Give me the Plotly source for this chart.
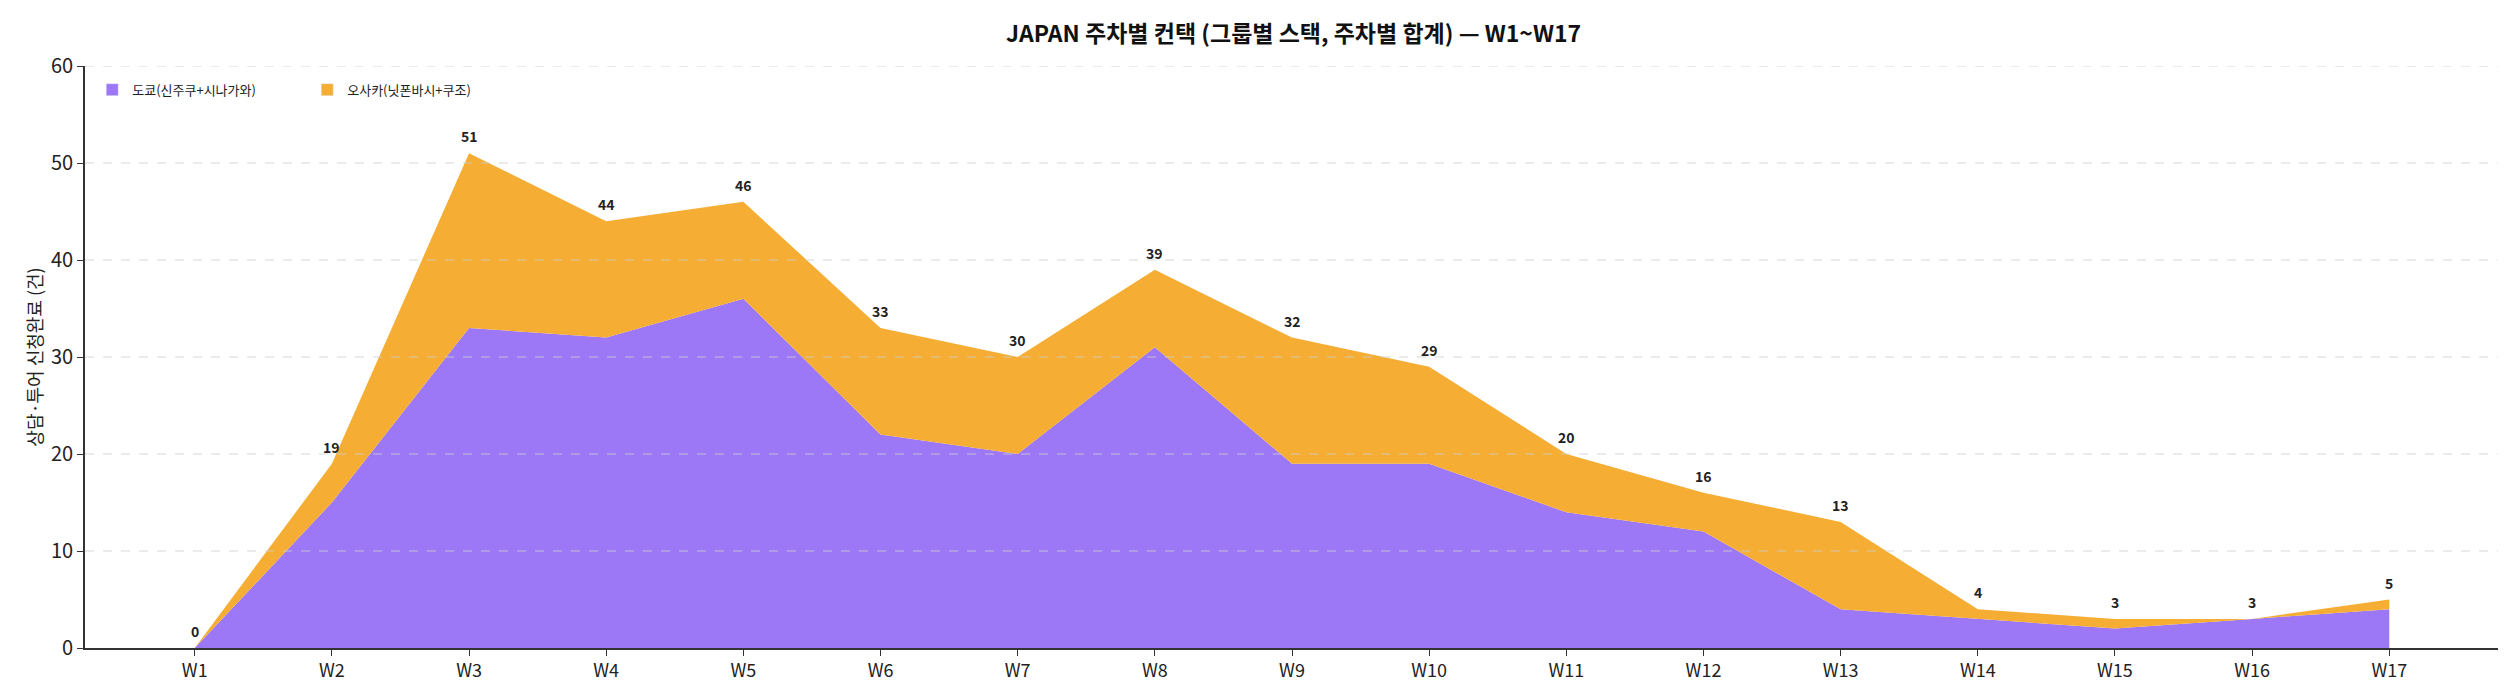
import plotly.graph_objects as go

# Data -------------------------------------------------------------------------
weeks = ["W1", "W2", "W3", "W4", "W5", "W6", "W7", "W8", "W9",
         "W10", "W11", "W12", "W13", "W14", "W15", "W16", "W17"]
tokyo = [0, 15, 33, 32, 36, 22, 20, 31, 19, 19, 14, 12, 4, 3, 2, 3, 4]
osaka = [0, 4, 18, 12, 10, 11, 10, 8, 13, 10, 6, 4, 9, 1, 1, 0, 1]
totals = [a + b for a, b in zip(tokyo, osaka)]
y_ticks = [0, 10, 20, 30, 40, 50, 60]
series_names = ["도쿄(신주쿠+시나가와)", "오사카(닛폰바시+쿠조)"]

# Parameters -------------------------------------------------------------------
font_family = "Noto Sans CJK KR"
colour_tokyo = "#9c77f6"
colour_osaka = "#f5ad33"
axis_colour = "#333333"
grid_colour = "rgba(205,205,205,0.55)"

x_idx = list(range(len(weeks)))

fig = go.Figure()

# stacked areas
for ys, colour in zip([tokyo, osaka], [colour_tokyo, colour_osaka]):
    fig.add_trace(go.Scatter(
        x=x_idx, y=ys, mode="lines", stackgroup="one",
        line=dict(width=0, color=colour), fillcolor=colour,
        showlegend=False, hoverinfo="skip",
    ))

# legend-only boxes (rectangle swatches)
for name, colour in zip(series_names, [colour_tokyo, colour_osaka]):
    fig.add_trace(go.Bar(
        x=[None], y=[None], name=name, marker=dict(color=colour),
        showlegend=True,
    ))

# total labels above the stack
for xi, t in zip(x_idx, totals):
    fig.add_annotation(
        x=xi, y=t, text=f"<b>{t}</b>", showarrow=False,
        yanchor="bottom", yshift=5,
        font=dict(family=font_family, size=14, color="#222222"),
    )

# dashed grid drawn above the areas (like the original)
for v in y_ticks[1:]:
    fig.add_shape(
        type="line", xref="paper", yref="y",
        x0=0, x1=1, y0=v, y1=v,
        line=dict(color=grid_colour, width=1.3, dash="dash"),
        layer="above",
    )

fig.update_layout(
    width=2506, height=686,
    paper_bgcolor="white", plot_bgcolor="white",
    margin=dict(l=77, r=15, t=58, b=46),
    font=dict(family=font_family, size=17, color="#222222"),
    title=dict(
        text="<b>JAPAN 주차별 컨택 (그룹별 스택, 주차별 합계) — W1~W17</b>",
        x=0.513, xanchor="center", y=0.962, yanchor="middle",
        font=dict(family=font_family, size=23, color="#111111"),
    ),
    legend=dict(
        orientation="h", x=0.003, y=0.985, xanchor="left", yanchor="top",
        font=dict(family=font_family, size=13, color="#222222"),
        bgcolor="rgba(255,255,255,0)",
        traceorder="normal", entrywidth=170,
    ),
    showlegend=True,
)

fig.update_xaxes(
    range=[-0.8, 16.8],
    tickmode="array", tickvals=x_idx, ticktext=weeks,
    showgrid=False, zeroline=False,
    showline=True, linecolor=axis_colour, linewidth=1.6,
    ticks="outside", ticklen=6, tickwidth=1.4, tickcolor=axis_colour,
    tickfont=dict(size=18, color="#222222"),
)
fig.update_yaxes(
    range=[0, 60],
    tickmode="array", tickvals=y_ticks,
    showgrid=False, zeroline=False,
    showline=True, linecolor=axis_colour, linewidth=1.6,
    ticks="outside", ticklen=6, tickwidth=1.4, tickcolor=axis_colour,
    tickfont=dict(size=20, color="#222222"),
    title=dict(text="상담·투어 신청완료 (건)", standoff=4,
               font=dict(size=18, color="#222222")),
)

fig.write_html("out.html")
